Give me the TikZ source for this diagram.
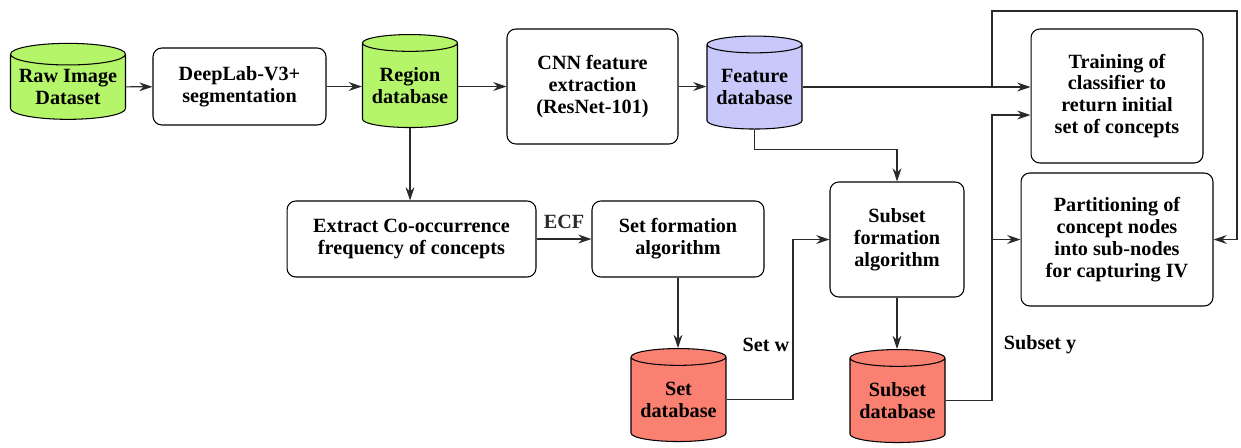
\documentclass[tikz,border=0pt]{standalone}
\usepackage{fontspec}
\setmainfont{Liberation Serif}
\usetikzlibrary{arrows.meta, positioning, shapes.geometric, calc}
\definecolor{dbgreen}{HTML}{B5F56A}
\definecolor{dbblue}{HTML}{C8C8FA}
\definecolor{dbred}{HTML}{FA8072}
\definecolor{wire}{HTML}{2A2A2A}
\newcommand{\blkfont}{\fontsize{11.5}{12.5}\selectfont\bfseries}

\begin{document}
\begin{tikzpicture}[x=0.02cm, y=-0.02cm,
    >={Stealth[length=7.5pt, width=5pt]},
    blk/.style={draw, rounded corners=5pt, fill=white, align=center, font=\blkfont, line width=0.6pt, inner sep=1pt},
    db/.style={cylinder, shape border rotate=90, aspect=0.22, draw, align=center, font=\blkfont, line width=0.6pt, inner sep=0pt, minimum width=1.9cm, minimum height=1.86cm},
    flow/.style={->, wire, line width=0.65pt},
    lbl/.style={font=\blkfont, inner sep=1pt}]
    \useasboundingbox (0,0) rectangle (1241,447);
    % top row
    \node[db, fill=dbgreen, minimum width=2.3cm, minimum height=1.52cm] (raw) at (68,87) {Raw Image\\Dataset};
    \node[blk, minimum width=3.46cm, minimum height=1.54cm] (deep) at (239.5,86.5) {DeepLab-V3+\\segmentation};
    \node[db, fill=dbgreen] (region) at (410,85.5) {Region\\database};
    \node[blk, minimum width=3.42cm, minimum height=2.3cm] (cnn) at (592.5,86.5) {CNN feature\\extraction\\(ResNet-101)};
    \node[db, fill=dbblue] (feat) at (754.5,87) {Feature\\database};
    \node[blk, minimum width=3.44cm, minimum height=2.68cm] (train) at (1117,96) {Training of\\classifier to\\return initial\\set of concepts};
    % middle row
    \node[blk, minimum width=4.98cm, minimum height=1.52cm] (extract) at (411.5,239) {Extract Co-occurrence\\frequency of concepts};
    \node[blk, minimum width=3.44cm, minimum height=1.52cm] (setf) at (678,239) {Set formation\\algorithm};
    \node[blk, minimum width=2.68cm, minimum height=2.3cm] (subf) at (897,239.5) {Subset\\formation\\algorithm};
    \node[blk, minimum width=3.84cm, minimum height=2.66cm] (part) at (1117,239.5) {Partitioning of\\concept nodes\\into sub-nodes\\for capturing IV};
    % bottom row
    \node[db, fill=dbred] (setdb) at (678.5,399.5) {Set\\database};
    \node[db, fill=dbred] (subdb) at (897.5,400.5) {Subset\\database};
    \node[lbl] (setw) at (766,345) {Set w};
    \node[lbl] (suby) at (1040,345) {Subset y};
    % junctions
    \coordinate (fsplit) at (992,87);
    \coordinate (loop) at (1237,11);
    \coordinate (sbus) at (992,115);
    \coordinate (wbus) at (793,239.5);

    \draw[flow] (raw) -- (deep);
    \draw[flow] (deep) -- (deep -| region.west);
    \draw[flow] (region.east |- cnn) -- (cnn);
    \draw[flow] (cnn) -- (cnn -| feat.west);
    \draw[flow] (feat.east) -- (feat.east -| train.west);
    \draw[flow] (fsplit) |- (loop) |- (part.east);
    \draw[flow] (feat.south) -- ++(0,20) -| (subf.north);
    \draw[flow] (region.south) -- (region.south |- extract.north);
    \draw[flow] (extract) -- node[lbl, above=1.6mm] {ECF} (setf);
    \draw[flow] (setf) -- (setf.south |- setdb.north);
    \draw[flow] (subf) -- (subf.south |- subdb.north);
    \draw[flow] (setdb.east) -| (wbus) -- (subf.west);
    \draw[flow] (subdb.east) -| (sbus) -- (sbus -| train.west);
    \draw[flow] (sbus |- part.west) -- (part.west);
\end{tikzpicture}
\end{document}
